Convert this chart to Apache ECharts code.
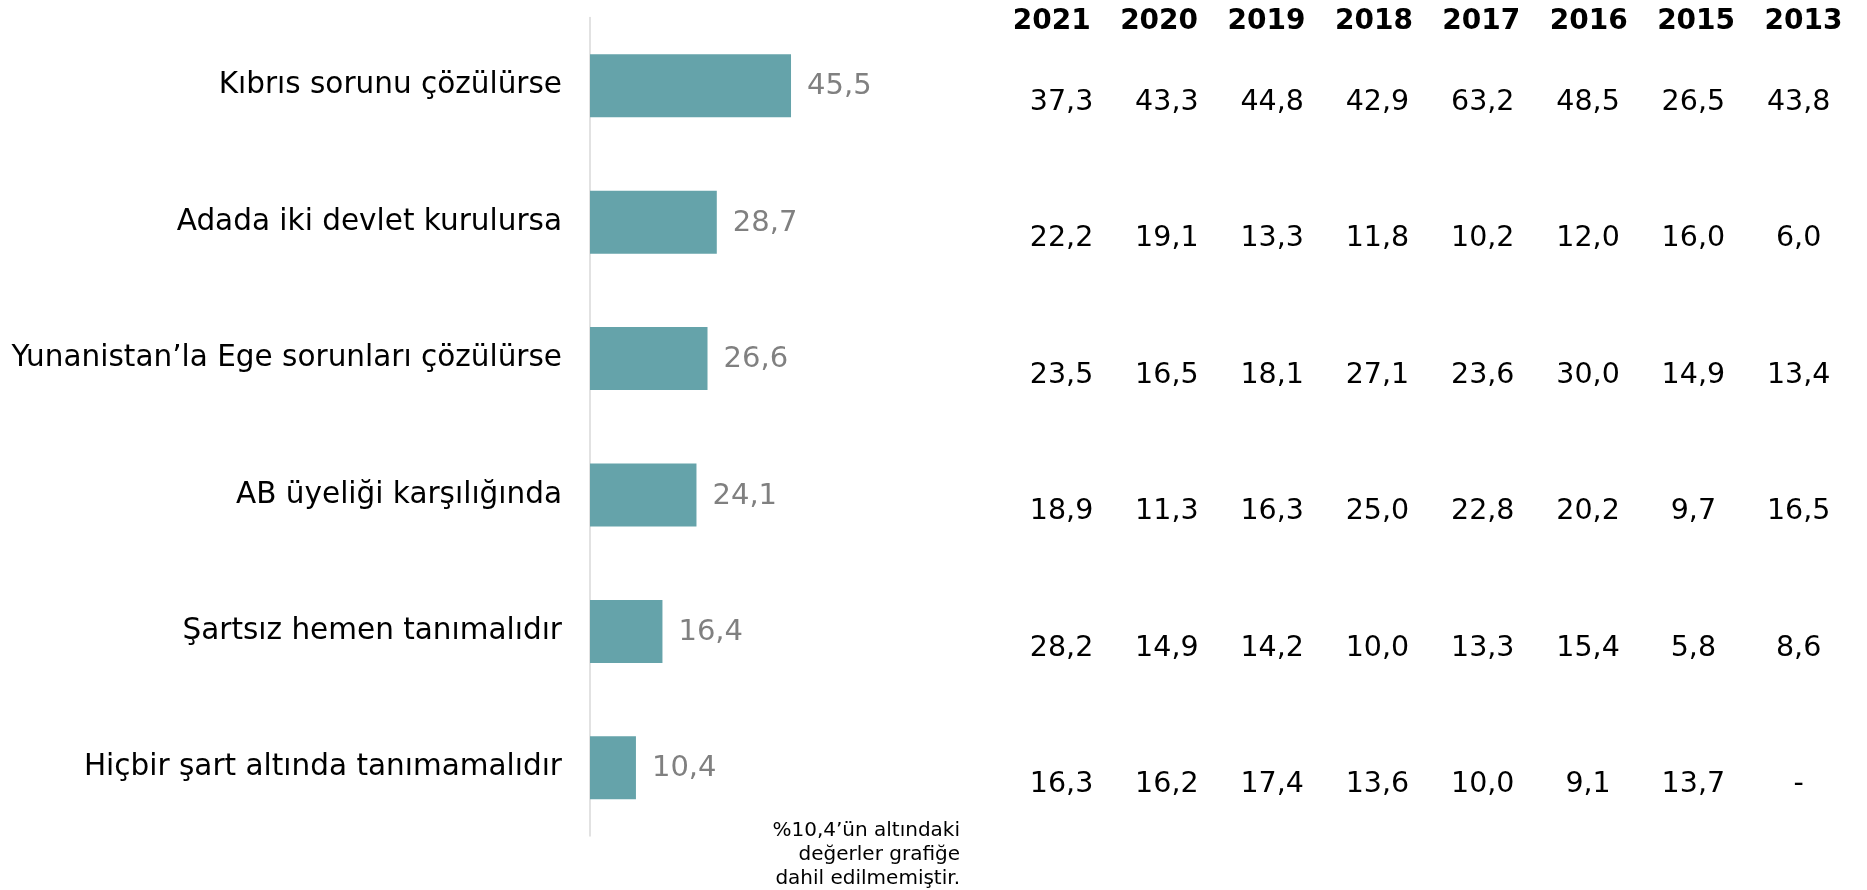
<!DOCTYPE html>
<html>
<head>
<meta charset="utf-8">
<script src="https://cdn.jsdelivr.net/npm/echarts@6/dist/echarts.min.js"></script>
<style>
html,body{margin:0;padding:0;background:#fff;}
#chart{width:1867px;height:890px;}
</style>
</head>
<body>
<div id="chart"></div>
<script>
// ---- Data ----
const categories = [
  'Kıbrıs sorunu çözülürse',
  'Adada iki devlet kurulursa',
  'Yunanistan’la Ege sorunları çözülürse',
  'AB üyeliği karşılığında',
  'Şartsız hemen tanımalıdır',
  'Hiçbir şart altında tanımamalıdır'
];
const values2022 = [45.5, 28.7, 26.6, 24.1, 16.4, 10.4];

const years = ['2021', '2020', '2019', '2018', '2017', '2016', '2015', '2013'];
const y2021 = [37.3, 22.2, 23.5, 18.9, 28.2, 16.3];
const y2020 = [43.3, 19.1, 16.5, 11.3, 14.9, 16.2];
const y2019 = [44.8, 13.3, 18.1, 16.3, 14.2, 17.4];
const y2018 = [42.9, 11.8, 27.1, 25.0, 10.0, 13.6];
const y2017 = [63.2, 10.2, 23.6, 22.8, 13.3, 10.0];
const y2016 = [48.5, 12.0, 30.0, 20.2, 15.4, 9.1];
const y2015 = [26.5, 16.0, 14.9, 9.7, 5.8, 13.7];
const y2013 = [43.8, 6.0, 13.4, 16.5, 8.6, null];
const yearColumns = [y2021, y2020, y2019, y2018, y2017, y2016, y2015, y2013];

const footnote = '%10,4’ün altındaki\ndeğerler grafiğe\ndahil edilmemiştir.';

// ---- Build ----
const FONT = 'DejaVu Sans';
const fmt = v => (v === null || v === undefined) ? '-' : v.toFixed(1).replace('.', ',');

const tableData = [];
yearColumns.forEach((col, ci) => {
  col.forEach((v, ri) => {
    tableData.push({ value: [years[ci], categories[ri]], raw: v });
  });
});

const chart = echarts.init(document.getElementById('chart'), null, { renderer: 'canvas' });
chart.setOption({
  animation: false,
  backgroundColor: '#ffffff',
  grid: [
    { left: 590, top: 17.6, width: 220.9, height: 818.4, containLabel: false },
    { left: 1008.9, top: 34.3, width: 842.4, height: 818.4, containLabel: false },
    { left: 998, top: 22, width: 859.2, height: 10, containLabel: false }
  ],
  xAxis: [
    { gridIndex: 0, type: 'value', min: 0, max: 50, show: false },
    { gridIndex: 1, type: 'category', data: years, show: false },
    {
      gridIndex: 2, type: 'category', data: years, position: 'top',
      axisLine: { show: false }, axisTick: { show: false }, splitLine: { show: false },
      axisLabel: { margin: 0, verticalAlign: 'middle', fontFamily: FONT, fontSize: 28, fontWeight: 'bold', color: '#000' }
    }
  ],
  yAxis: [
    {
      gridIndex: 0, type: 'category', data: categories, inverse: true,
      axisLine: { show: true, lineStyle: { color: '#d9d9d9', width: 1.5 } },
      axisTick: { show: false },
      axisLabel: { margin: 28, fontFamily: FONT, fontSize: 29.5, color: '#000' }
    },
    { gridIndex: 1, type: 'category', data: categories, inverse: true, show: false },
    { gridIndex: 2, type: 'value', show: false, min: 0, max: 1 }
  ],
  series: [
    {
      type: 'bar', xAxisIndex: 0, yAxisIndex: 0,
      data: values2022,
      barWidth: 63,
      itemStyle: { color: '#65a3aa' },
      label: {
        show: true, position: 'right', distance: 16, offset: [0, 1],
        fontFamily: FONT, fontSize: 29, color: '#808080',
        formatter: p => fmt(p.value)
      }
    },
    {
      type: 'scatter', xAxisIndex: 1, yAxisIndex: 1,
      data: tableData,
      symbolSize: 1,
      itemStyle: { color: 'rgba(255,255,255,0)' },
      label: {
        show: true, position: 'inside',
        fontFamily: FONT, fontSize: 28.5, color: '#000000',
        textBorderWidth: 0, opacity: 1,
        formatter: p => fmt(p.data.raw)
      },
      emphasis: { disabled: true }
    },
    { type: 'scatter', xAxisIndex: 2, yAxisIndex: 2, data: [] }
  ],
  graphic: [
    {
      type: 'text', right: 907, top: 819,
      style: {
        text: footnote, font: '20px "DejaVu Sans"', fill: '#000',
        textAlign: 'right', lineHeight: 24
      }
    }
  ]
});
</script>
</body>
</html>
